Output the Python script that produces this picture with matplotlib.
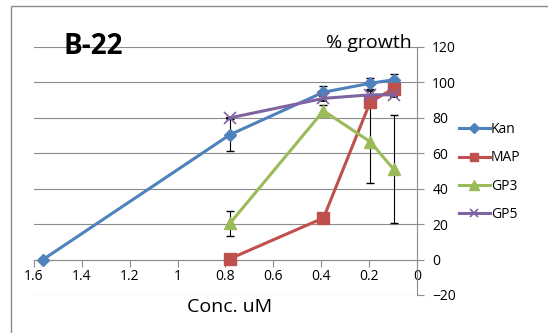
import matplotlib.pyplot as plt
from matplotlib.patches import Rectangle
from matplotlib.lines import Line2D

conc = [1.5625, 0.78125, 0.390625, 0.1953, 0.0977]

kan = [0, 70.5, 94.5, 99.5, 101.5]
kan_err = [0, 9, 3.5, 3, 3]
map_x = conc[1:]
map_y = [0.5, 23.5, 89, 96.5]
map_err = [0, 0, 1.5, 1.5]
gp3 = [20.5, 84, 66.5, 51]
gp3_err = [7, 3, 23.5, 30.5]
gp5 = [80, 91, 93, 93]
gp5_err = [0, 1.5, 2, 1.5]

plt.rcParams['font.family'] = ['Open Sans', 'DejaVu Sans']

fig = plt.figure(figsize=(5.48, 3.33), dpi=100)
fig.patches.append(Rectangle((11/548, -0.1), 1.2, 0.1 + 1 - 5.7/333, transform=fig.transFigure,
                             fill=False, edgecolor='#8c8c8c', lw=1))
ax = fig.add_axes([34/548, 1 - 295/333, (417 - 34)/548, (295 - 47)/333])

styles = [
    ('Kan', conc, kan, kan_err, '#4F81BD', 'D', 6),
    ('MAP', map_x, map_y, map_err, '#C0504D', 's', 8),
    ('GP3', map_x, gp3, gp3_err, '#9BBB59', '^', 9),
    ('GP5', map_x, gp5, gp5_err, '#8064A2', 'x', 8),
]
handles = []
for name, xs, ys, err, col, mk, ms in styles:
    ax.errorbar(xs, ys, yerr=err, color=col, lw=2.2, marker=mk, ms=ms, mew=1.2 if mk == 'x' else 1,
                ecolor='black', elinewidth=0.8, capsize=3, zorder=3)
    handles.append(Line2D([], [], color=col, lw=2.2, marker=mk, ms=ms * 0.8,
                          mew=1.2 if mk == 'x' else 1, label=name))

ax.set_xlim(1.6, 0)
ax.set_ylim(-20, 120)
ax.set_xticks([1.6, 1.4, 1.2, 1, 0.8, 0.6, 0.4, 0.2, 0])
ax.set_xticklabels(['1.6', '1.4', '1.2', '1', '0.8', '0.6', '0.4', '0.2', '0'])
ax.set_yticks(range(-20, 121, 20))
ax.yaxis.tick_right()
ax.grid(axis='y', color='#8c8c8c', lw=0.8)
ax.set_axisbelow(True)
for s in ['top', 'left']:
    ax.spines[s].set_visible(False)
ax.spines['bottom'].set_position(('data', 0))
ax.spines['bottom'].set_color('#8c8c8c')
ax.spines['right'].set_color('#8c8c8c')
ax.tick_params(axis='x', direction='out', length=5, color='#8c8c8c', labelsize=10, pad=2)
ax.tick_params(axis='y', direction='out', length=5, color='#8c8c8c', labelsize=10, pad=6)

fig.text(63/548, 1 - 47/333, 'B-22', fontsize=20, fontweight='bold', va='center', ha='left')
fig.text(412/548, 1 - 43/333, '% growth', fontsize=14, va='center', ha='right')
fig.text(230/548, 1 - 307/333, 'Conc. uM', fontsize=14, va='center', ha='center')

fig.legend(handles=handles, loc='center left', bbox_to_anchor=(452/548, 1 - 172/333), frameon=False,
           fontsize=10, handlelength=2.2, handletextpad=0.1, labelspacing=0.95, borderpad=0)

fig.savefig('out.png', dpi=100)
